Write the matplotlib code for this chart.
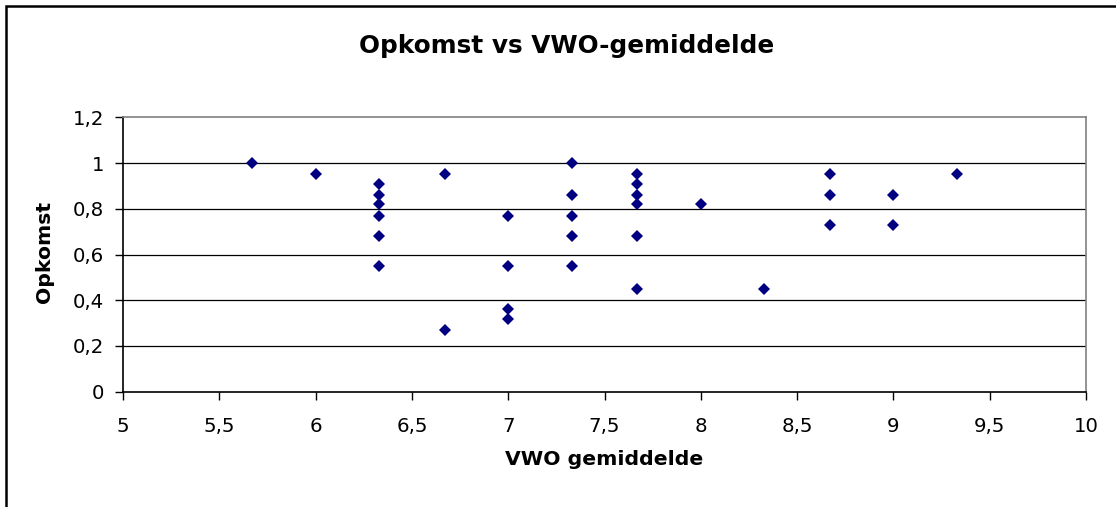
import matplotlib
matplotlib.use('Agg')
import matplotlib.pyplot as plt
import matplotlib.patches as patches
import numpy as np

# VWO average per group and the turnout for that group
vwo = [5.67,
	6.00,
	6.33, 6.33, 6.33, 6.33, 6.33, 6.33,
	6.67, 6.67,
	7.00, 7.00, 7.00, 7.00,
	7.33, 7.33, 7.33, 7.33, 7.33,
	7.67, 7.67, 7.67, 7.67, 7.67, 7.67,
	8.00,
	8.33,
	8.67, 8.67, 8.67,
	9.00, 9.00,
	9.33]

opkomst = [1.00,
	0.95,
	0.91, 0.86, 0.82, 0.77, 0.68, 0.55,
	0.95, 0.27,
	0.77, 0.55, 0.36, 0.32,
	1.00, 0.86, 0.77, 0.68, 0.55,
	0.95, 0.91, 0.86, 0.82, 0.68, 0.45,
	0.82,
	0.45,
	0.95, 0.86, 0.73,
	0.86, 0.73,
	0.95]

x_ticks = [5, 5.5, 6, 6.5, 7, 7.5, 8, 8.5, 9, 9.5, 10]
y_ticks = [0, 0.2, 0.4, 0.6, 0.8, 1.0, 1.2]


def comma(v):
	# dutch style decimals
	s = ('%g' % v)
	return s.replace('.', ',')


W, H = 1116, 507
fig = plt.figure(figsize=(W/100, H/100), dpi=100)
fig.patch.set_facecolor('white')

ax = fig.add_axes([123/W, (H-391.7)/H, (1086-123)/W, 274.4/H])

# horizontal gridlines
for yv in y_ticks[1:-1]:
	ax.axhline(yv, color='black', lw=0.9, zorder=1)

ax.plot(vwo, opkomst, 'D', color='#000080', markersize=6.3, markeredgewidth=0, zorder=3)

ax.set_xlim(5, 10)
ax.set_ylim(0, 1.2)
ax.set_xticks(x_ticks)
ax.set_xticklabels([comma(v) for v in x_ticks])
ax.set_yticks(y_ticks)
ax.set_yticklabels([comma(v) for v in y_ticks])

ax.tick_params(axis='both', direction='out', length=5.8, width=1, colors='black', labelsize=14.2)
ax.tick_params(axis='y', pad=7.9)
ax.tick_params(axis='x', pad=12.5)

ax.spines['left'].set_color('black')
ax.spines['bottom'].set_color('black')
ax.spines['top'].set_color('#808080')
ax.spines['right'].set_color('#808080')
for sp in ax.spines.values():
	sp.set_linewidth(1.2)

fig.text(566.5/W, (H-52.7)/H, 'Opkomst vs VWO-gemiddelde', ha='center', va='baseline',
	fontsize=17.8, fontweight='bold')
fig.text(604/W, (H-465)/H, 'VWO gemiddelde', ha='center', va='baseline',
	fontsize=14.7, fontweight='bold')
fig.text(44.2/W, (H-252)/H, 'Opkomst', ha='center', va='center', rotation=90,
	fontsize=14.7, fontweight='bold')

# chart border, runs off the right and bottom of the picture
border = patches.Rectangle((5.5/W, -0.2), 1.2, (H-6)/H + 0.2, transform=fig.transFigure,
	fill=False, lw=1.8, ec='black')
fig.patches.append(border)

plt.savefig('out.png', dpi=100)
